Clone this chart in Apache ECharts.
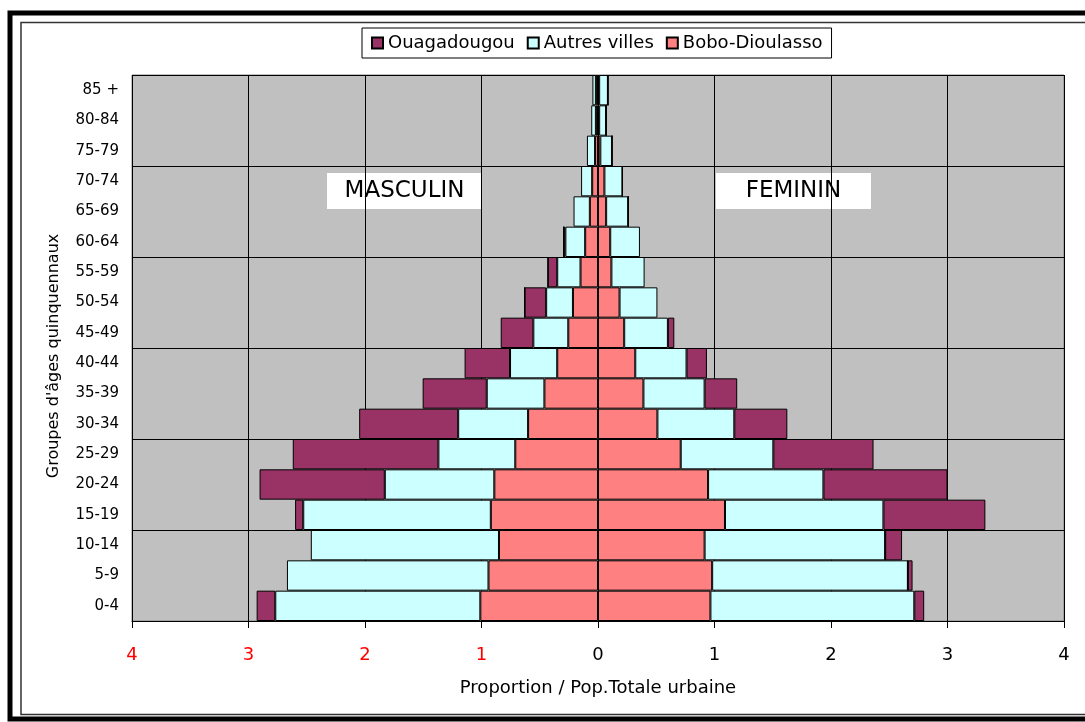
<!DOCTYPE html>
<html>
<head>
<meta charset="utf-8">
<script src="https://cdn.jsdelivr.net/npm/echarts/dist/echarts.min.js"></script>
<style>
  html, body { margin: 0; padding: 0; background: #fff; }
  #main { width: 1085px; height: 722px; }
</style>
</head>
<body>
<div id="main"></div>
<script>
const chart = echarts.init(document.getElementById('main'));

// age groups, bottom to top
const ages = ['0-4', '5-9', '10-14', '15-19', '20-24', '25-29', '30-34', '35-39', '40-44',
    '45-49', '50-54', '55-59', '60-64', '65-69', '70-74', '75-79', '80-84', '85 +'];

// masculin (proportions, drawn on the left)
const bobo_m = [1.01, 0.94, 0.85, 0.92, 0.89, 0.71, 0.60, 0.46, 0.35, 0.255, 0.215, 0.15, 0.11, 0.07, 0.05, 0.025, 0.018, 0.018];
const autres_m = [1.76, 1.73, 1.615, 1.61, 0.94, 0.66, 0.60, 0.495, 0.405, 0.30, 0.23, 0.20, 0.17, 0.14, 0.095, 0.07, 0.04, 0.03];
const ouaga_m = [0.16, 0, 0, 0.07, 1.075, 1.25, 0.85, 0.55, 0.39, 0.28, 0.185, 0.08, 0.015, 0, 0, 0, 0, 0];

// feminin (drawn on the right)
const bobo_f = [0.965, 0.98, 0.915, 1.09, 0.945, 0.71, 0.51, 0.39, 0.32, 0.225, 0.185, 0.115, 0.105, 0.07, 0.055, 0.02, 0.01, 0.01];
const autres_f = [1.75, 1.68, 1.55, 1.36, 0.99, 0.795, 0.66, 0.525, 0.44, 0.375, 0.325, 0.285, 0.255, 0.19, 0.155, 0.10, 0.06, 0.075];
const ouaga_f = [0.085, 0.04, 0.145, 0.875, 1.065, 0.86, 0.455, 0.28, 0.175, 0.055, 0, 0, 0, 0, 0, 0, 0, 0];

const colors = {
    'Ouagadougou': '#993366',
    'Autres villes': '#CCFFFF',
    'Bobo-Dioulasso': '#FF8080'
};

const FONT = 'DejaVu Sans';

function barSeries(name, values, neg) {
    return {
        name: name,
        type: 'bar',
        stack: 'pyr',
        yAxisIndex: 0,
        barCategoryGap: 0,
        data: values.map(v => neg ? -v : v),
        itemStyle: {
            color: colors[name],
            borderColor: '#000',
            borderWidth: 1
        }
    };
}

// center first, then outward
const series = [
    barSeries('Bobo-Dioulasso', bobo_m, true),
    barSeries('Bobo-Dioulasso', bobo_f, false),
    barSeries('Autres villes', autres_m, true),
    barSeries('Autres villes', autres_f, false),
    barSeries('Ouagadougou', ouaga_m, true),
    barSeries('Ouagadougou', ouaga_f, false)
];

function labelBox(x, text) {
    return {
        type: 'group',
        left: x,
        top: 173,
        z: 100,
        children: [{
            type: 'rect',
            shape: { x: 0, y: 0, width: 155, height: 36 },
            style: { fill: '#fff' }
        }, {
            type: 'text',
            x: 77.5,
            y: 18,
            style: {
                text: text,
                fill: '#000',
                font: '23px "' + FONT + '"',
                align: 'center',
                verticalAlign: 'middle'
            }
        }]
    };
}

const option = {
    animation: false,
    backgroundColor: '#fff',
    legend: {
        data: ['Ouagadougou', 'Autres villes', 'Bobo-Dioulasso'],
        left: 362,
        top: 28,
        padding: [6, 9, 6, 9],
        itemGap: 12,
        itemWidth: 11,
        itemHeight: 11,
        icon: 'rect',
        borderColor: '#000',
        borderWidth: 1,
        backgroundColor: '#fff',
        textStyle: {
            fontFamily: FONT,
            fontSize: 18,
            color: '#000'
        }
    },
    grid: {
        left: 132,
        right: 21,
        top: 75,
        bottom: 101,
        show: true,
        backgroundColor: '#C0C0C0',
        borderColor: '#808080',
        borderWidth: 1
    },
    xAxis: {
        type: 'value',
        min: -4,
        max: 4,
        interval: 1,
        name: 'Proportion / Pop.Totale urbaine',
        nameLocation: 'middle',
        nameGap: 58,
        nameTextStyle: {
            fontFamily: FONT,
            fontSize: 18,
            color: '#000'
        },
        axisLine: { show: true, lineStyle: { color: '#000', width: 1 } },
        axisTick: { show: true, length: 7, lineStyle: { color: '#000' } },
        axisLabel: {
            margin: 25,
            fontFamily: FONT,
            fontSize: 18,
            formatter: v => String(Math.abs(v)),
            color: v => (v < 0 ? '#FF0000' : '#000')
        },
        splitLine: { show: true, lineStyle: { color: '#000', width: 1 } }
    },
    yAxis: [{
        type: 'category',
        data: ages,
        name: "Groupes d'âges quinquennaux",
        nameLocation: 'middle',
        nameRotate: 90,
        nameGap: 70,
        nameTextStyle: {
            fontFamily: FONT,
            fontSize: 16,
            color: '#000',
            padding: [0, 16, 0, 0]
        },
        axisLine: { show: false },
        axisTick: { show: false },
        axisLabel: {
            margin: 13,
            fontFamily: FONT,
            fontSize: 15,
            color: '#000',
            interval: 0
        },
        splitLine: { show: false }
    }, {
        // horizontal lines every three age groups
        type: 'value',
        min: 0,
        max: 18,
        interval: 3,
        position: 'left',
        axisLine: { show: false },
        axisTick: { show: false },
        axisLabel: { show: false },
        splitLine: { show: true, lineStyle: { color: '#000', width: 1 } }
    }],
    series: series,
    graphic: [
        labelBox(327, 'MASCULIN'),
        labelBox(716, 'FEMININ'),
        {
            type: 'rect',
            z: 100,
            shape: { x: 10, y: 13, width: 1100, height: 706 },
            style: { fill: 'none', stroke: '#000', lineWidth: 5 }
        },
        {
            type: 'rect',
            z: 100,
            shape: { x: 21, y: 22.5, width: 1100, height: 692 },
            style: { fill: 'none', stroke: '#333', lineWidth: 1.5 }
        }
    ]
};

chart.setOption(option);
</script>
</body>
</html>
